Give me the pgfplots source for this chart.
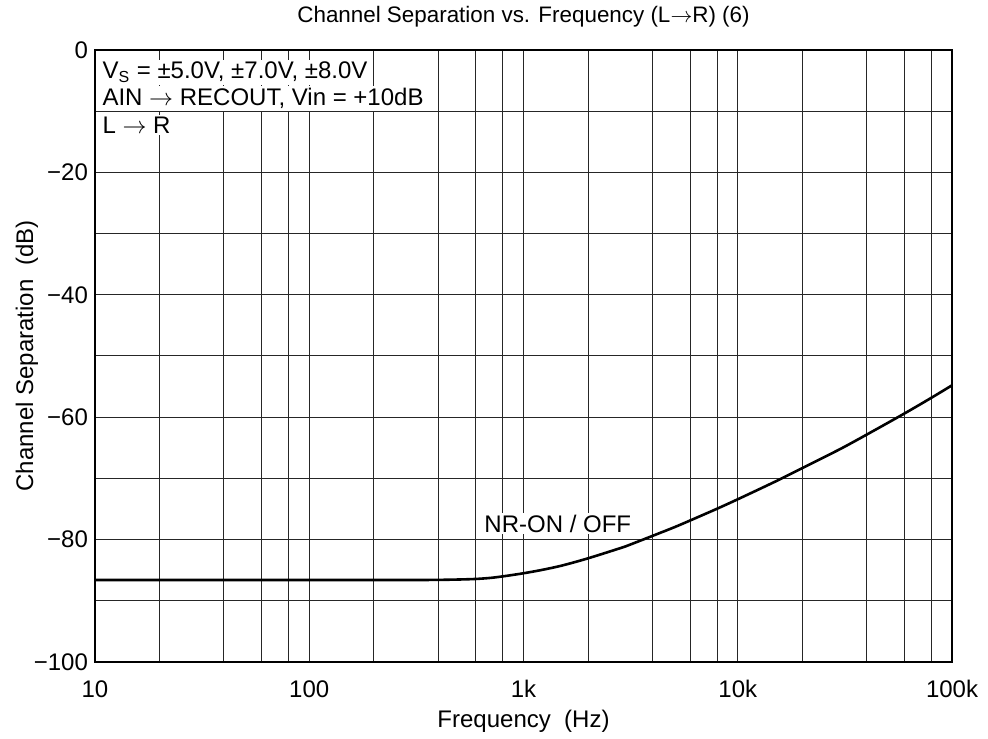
\documentclass[border=0pt]{standalone}
\usepackage{fontspec}
\setmainfont{Liberation Sans}
\usepackage{pgfplots}
\pgfplotsset{compat=1.18}

\begin{document}
\begin{tikzpicture}[font=\fontsize{12}{14}\selectfont]
\begin{axis}[
    name=main,
    scale only axis,
    width=428.5pt, height=306pt,
    xmode=log,
    xmin=10, xmax=100000,
    ymin=-100, ymax=0,
    xtick={10,100,1000,10000,100000},
    xticklabels={10,100,1k,10k,100k},
    minor xtick={20,40,60,80,200,400,600,800,2000,4000,6000,8000,20000,40000,60000,80000},
    ytick={-100,-80,-60,-40,-20,0},
    yticklabels={−100,−80,−60,−40,−20,0},
    minor ytick={-90,-70,-50,-30,-10},
    grid=both,
    major grid style={black!85, line width=0.5pt},
    minor grid style={black!85, line width=0.5pt},
    major tick length=0pt, minor tick length=0pt,
    axis line style={line width=1pt},
    xticklabel style={anchor=base, yshift=-17.5pt},
    xlabel={Frequency\ \ (Hz)},
    ylabel={Channel Separation\ \ (dB)},
    xlabel style={at={(axis description cs:0.5,0)}, anchor=base, yshift=-32.5pt},
    ylabel style={at={(axis description cs:-0.0723,0.5)}, anchor=base},
]
% NR-ON / OFF curve
\addplot[black, line width=1.3pt, smooth, tension=0.5] coordinates {
    (10,-86.6) (30,-86.6) (100,-86.6) (300,-86.6) (400,-86.58)
    (500,-86.52) (600,-86.43) (700,-86.26) (800,-86.01) (900,-85.75)
    (1000,-85.5) (1200,-85.0) (1500,-84.27) (2000,-83.06) (3000,-81.1)
    (3500,-80.19) (5000,-78.05) (6000,-76.87) (8000,-74.96) (10000,-73.41)
    (15000,-70.5) (20000,-68.32) (30000,-65.22) (40000,-62.84)
    (60000,-59.39) (80000,-56.84) (100000,-54.79)
};
\node[anchor=base west, fill=white, inner sep=1pt] at (rel axis cs:0.006,0.953)
    {V\textsubscript{S} = ±5.0V, ±7.0V, ±8.0V};
\node[anchor=base west, fill=white, inner sep=1pt] at (rel axis cs:0.006,0.909)
    {AIN $\rightarrow$ RECOUT, Vin = +10dB};
\node[anchor=base west, fill=white, inner sep=1pt] at (rel axis cs:0.006,0.864)
    {L $\rightarrow$ R};
\node[anchor=base, fill=white, inner sep=1pt] at (rel axis cs:0.540,0.2124)
    {NR-ON / OFF};
\end{axis}
\node[anchor=base, font=\fontsize{11.2}{13}\selectfont] at ([yshift=13.5pt]main.north)
    {Channel Separation vs. Frequency (L$\rightarrow$R) (6)};
\path (main.south west) ++(-47.5pt,-37.5pt) rectangle ++(494pt,368.5pt);
\end{tikzpicture}
\end{document}
